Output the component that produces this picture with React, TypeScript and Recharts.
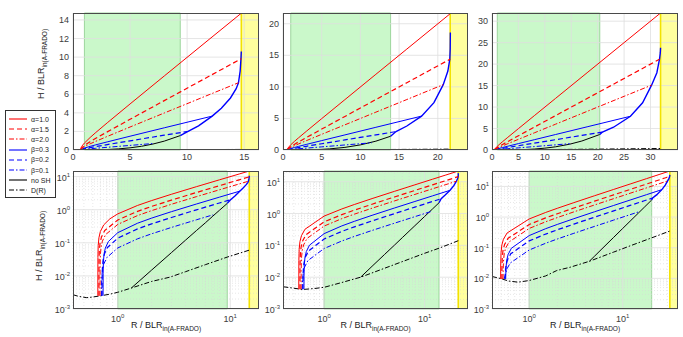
import React from "react"
import { LineChart, Line, XAxis, YAxis, ReferenceArea, ReferenceLine } from "recharts"

// curve points [R, H]; column 1 (left)
const c1A10 = [[0.665, 0.0025], [0.666, 0.036], [0.67, 0.082], [0.68, 0.142], [0.7, 0.219], [0.75, 0.347], [0.85, 0.529], [1, 0.747], [1.5, 1.345], [2, 1.886], [3, 2.925], [5, 4.956], [8, 7.972], [12, 11.98], [14.75, 14.73]]
const c1A15 = [[0.68, 0.0025], [0.681, 0.0246], [0.685, 0.0551], [0.695, 0.0958], [0.715, 0.147], [0.765, 0.234], [1, 0.489], [1.5, 0.892], [2, 1.254], [3, 1.949], [5, 3.304], [8, 5.317], [12, 7.99], [14.75, 9.83]]
const c1A20 = [[0.695, 0.0025], [0.696, 0.0186], [0.7, 0.0418], [0.71, 0.0726], [0.73, 0.112], [0.78, 0.177], [1, 0.36], [1.5, 0.665], [2, 0.938], [3, 1.459], [5, 2.476], [8, 3.985], [12, 5.99], [14.5, 7.24]]
const c1B03 = [[0.74, 0.0025], [0.741, 0.0116], [0.745, 0.0259], [0.755, 0.0449], [0.775, 0.0691], [0.825, 0.109], [1, 0.202], [1.5, 0.391], [2, 0.557], [3, 0.872], [5, 1.484], [8, 2.39], [12.2, 3.65]]
const c1B02 = [[0.725, 0.0025], [0.726, 0.0076], [0.73, 0.0171], [0.74, 0.0296], [0.76, 0.0456], [0.81, 0.0722], [1, 0.138], [1.5, 0.263], [2, 0.373], [3, 0.582], [5, 0.989], [8, 1.593], [10, 1.995]]
const c1B01 = [[0.715, 0.0025], [0.716, 0.0038], [0.72, 0.0085], [0.73, 0.0147], [0.75, 0.0226], [0.8, 0.0359], [1, 0.0699], [1.5, 0.132], [2, 0.187], [3, 0.291], [5, 0.495], [7.05, 0.701]]
const c1NoSH = [[1.32, 0.0043], [2, 0.015], [3, 0.0505], [4, 0.12], [5, 0.234], [6, 0.4], [7, 0.64], [8, 0.957], [9.4, 1.55]]
const c1Env = [[9.4, 1.55], [10, 1.95], [11, 2.6], [12.2, 3.65], [13, 4.5], [13.8, 5.6], [14.3, 6.6], [14.5, 7.24], [14.65, 8.5], [14.72, 9.83], [14.75, 10.6]]
const c1D = [[0.4, 0.0027], [0.45, 0.0024], [0.53, 0.0022], [0.6, 0.0023], [0.7, 0.0025], [0.85, 0.0028], [1, 0.0032], [1.32, 0.0043], [2, 0.0068], [2.92, 0.0092], [4, 0.0134], [6, 0.0218], [9.4, 0.037], [14.75, 0.06]]

// column 2 (middle)
const c2A10 = [[0.56, 0.0042], [0.561, 0.0335], [0.565, 0.075], [0.575, 0.131], [0.595, 0.201], [0.645, 0.32], [1, 0.829], [1.5, 1.392], [2, 1.92], [3, 2.947], [5, 4.969], [8, 7.98], [12, 11.99], [16, 15.99], [21.6, 21.59]]
const c2A15 = [[0.575, 0.0042], [0.576, 0.0226], [0.58, 0.0507], [0.59, 0.0882], [0.61, 0.136], [0.66, 0.216], [1, 0.546], [1.5, 0.924], [2, 1.277], [3, 1.963], [5, 3.311], [8, 5.319], [12, 7.991], [16, 10.66], [21.6, 14.39]]
const c2A20 = [[0.59, 0.0042], [0.591, 0.0172], [0.595, 0.0385], [0.605, 0.067], [0.625, 0.103], [0.675, 0.164], [1, 0.404], [1.5, 0.69], [2, 0.956], [3, 1.471], [5, 2.483], [8, 3.989], [12, 5.993], [16, 7.995], [20.7, 10.35]]
const c2B03 = [[0.63, 0.0042], [0.631, 0.0107], [0.635, 0.0239], [0.645, 0.0415], [0.665, 0.0639], [0.715, 0.101], [1, 0.233], [1.5, 0.408], [2, 0.569], [3, 0.88], [5, 1.488], [8, 2.393], [12, 3.595], [17.9, 5.367]]
const c2B02 = [[0.615, 0.0042], [0.616, 0.007], [0.62, 0.0157], [0.63, 0.0273], [0.65, 0.0421], [0.7, 0.0669], [1, 0.158], [1.5, 0.274], [2, 0.381], [3, 0.587], [5, 0.992], [8, 1.595], [12, 2.397], [14.6, 2.917]]
const c2B01 = [[0.605, 0.0042], [0.61, 0.0078], [0.62, 0.0136], [0.64, 0.0209], [0.69, 0.0332], [1, 0.0796], [1.5, 0.137], [2, 0.191], [3, 0.294], [5, 0.496], [8, 0.798], [11.5, 1.148]]
const c2NoSH = [[2.31, 0.01], [3, 0.022], [4, 0.052], [5, 0.101], [6, 0.175], [8, 0.415], [10, 0.81], [12, 1.4], [13.9, 2.18]]
const c2Env = [[13.9, 2.18], [14.6, 2.917], [16, 3.8], [17.9, 5.367], [19.5, 7.5], [20.7, 10.35], [21.3, 12.5], [21.55, 14.39], [21.6, 16], [21.62, 18.6]]
const c2D = [[0.393, 0.005], [0.5, 0.0045], [0.61, 0.0041], [0.8, 0.0044], [1, 0.0048], [1.5, 0.0068], [2.31, 0.01], [4, 0.0191], [7, 0.037], [10, 0.0563], [14, 0.082], [21.6, 0.14]]

// column 3 (right)
const c3A10 = [[0.495, 0.0096], [0.496, 0.0315], [0.5, 0.0705], [0.51, 0.123], [0.53, 0.189], [0.58, 0.302], [1, 0.869], [1.5, 1.416], [2, 1.938], [3, 2.959], [5, 4.975], [8, 7.985], [12, 11.99], [18, 17.99], [25, 25], [31.9, 31.9]]
const c3A15 = [[0.51, 0.0096], [0.511, 0.0213], [0.515, 0.0477], [0.525, 0.0831], [0.545, 0.128], [0.595, 0.204], [1, 0.574], [1.5, 0.94], [2, 1.289], [3, 1.971], [5, 3.316], [8, 5.323], [12, 7.993], [18, 11.995], [25, 16.66], [31.7, 21.13]]
const c3A20 = [[0.525, 0.0096], [0.526, 0.0162], [0.53, 0.0363], [0.54, 0.0632], [0.56, 0.0974], [0.61, 0.155], [1, 0.426], [1.5, 0.703], [2, 0.965], [3, 1.477], [5, 2.486], [8, 3.991], [12, 5.994], [18, 8.996], [25, 12.5], [30.2, 15.1]]
const c3B03 = [[0.56, 0.0096], [0.565, 0.0225], [0.575, 0.0392], [0.595, 0.0603], [0.645, 0.096], [1, 0.249], [1.5, 0.418], [2, 0.576], [3, 0.884], [5, 1.491], [8, 2.394], [12, 3.596], [18, 5.397], [26.2, 7.858]]
const c3B02 = [[0.55, 0.0096], [0.555, 0.0149], [0.565, 0.0259], [0.585, 0.0399], [0.635, 0.0635], [1, 0.167], [1.5, 0.279], [2, 0.385], [3, 0.59], [5, 0.994], [8, 1.596], [12, 2.397], [17, 3.398], [20.9, 4.179]]
const c3B01 = [[0.54, 0.0096], [0.555, 0.0128], [0.575, 0.0198], [0.625, 0.0315], [1, 0.0842], [1.5, 0.14], [2, 0.193], [3, 0.295], [5, 0.497], [8, 0.798], [11, 1.099], [14.7, 1.469]]
const c3NoSH = [[4.39, 0.036], [5, 0.053], [6, 0.092], [8, 0.218], [10, 0.426], [12, 0.736], [14.7, 1.35], [17, 2.09], [20.4, 3.61]]
const c3Env = [[20.4, 3.61], [20.9, 4.179], [23, 5.3], [26.2, 7.858], [28.5, 11], [30.2, 15.1], [31.2, 18], [31.7, 21.13], [31.85, 22.6], [31.9, 23.8]]
const c3D = [[0.4, 0.0115], [0.5, 0.0098], [0.6, 0.0082], [0.76, 0.0075], [1, 0.0085], [1.5, 0.012], [1.97, 0.018], [2.73, 0.023], [4.39, 0.036], [8, 0.072], [12, 0.115], [20.4, 0.21], [31.9, 0.35]]

// axis limits and shaded regions per column
const linXMax = [16.3, 23.9, 35.2]
const yMax = [14.75, 21.7, 31.9]
const logXMin = [0.4, 0.39, 0.4]
const logXMax = [18, 27, 39]
const greenEnd = [9.4, 13.9, 20.4]
const yellowStart = [14.75, 21.6, 31.9]
const linXTicks = [[0, 5, 10, 15], [0, 5, 10, 15, 20], [0, 5, 10, 15, 20, 25, 30]]
const linYTicks = [[0, 2, 4, 6, 8, 10, 12, 14], [0, 5, 10, 15, 20], [0, 5, 10, 15, 20, 25, 30]]
const logXTicks = [1, 10]
const logYTicks = [0.001, 0.01, 0.1, 1, 10]
const minorSteps = [2, 3, 4, 5, 6, 7, 8, 9]

const RED = "#ff0000"
const BLUE = "#0000ff"
const BLACK = "#000000"
const DASH = "5 3"
const DASHDOT = "5 2 1.5 2"

const legendItems = [
  { label: "α=1.0", color: RED, dash: undefined },
  { label: "α=1.5", color: RED, dash: DASH },
  { label: "α=2.0", color: RED, dash: DASHDOT },
  { label: "β=0.3", color: BLUE, dash: undefined },
  { label: "β=0.2", color: BLUE, dash: DASH },
  { label: "β=0.1", color: BLUE, dash: DASHDOT },
  { label: "no SH", color: BLACK, dash: undefined },
  { label: "D(R)", color: BLACK, dash: DASHDOT },
]

const columns = [
  [c1A10, c1A15, c1A20, c1B03, c1B02, c1B01, c1NoSH, c1D, c1Env],
  [c2A10, c2A15, c2A20, c2B03, c2B02, c2B01, c2NoSH, c2D, c2Env],
  [c3A10, c3A15, c3A20, c3B03, c3B02, c3B01, c3NoSH, c3D, c3Env],
]

const toPts = (a: number[][]) => a.map(([r, h]) => ({ r, h }))

const TICK_COLOR = "#3c3c3c"

function LinXTick(props: any) {
  const { x, y, payload } = props
  return <text x={x} y={y + 10} textAnchor="middle" fontSize={9} fill={TICK_COLOR}>{payload.value}</text>
}
function LinYTick(props: any) {
  const { x, y, payload } = props
  return <text x={x - 4} y={y + 3} textAnchor="end" fontSize={9} fill={TICK_COLOR}>{payload.value}</text>
}
function LogXTick(props: any) {
  const { x, y, payload } = props
  const e = Math.round(Math.log10(payload.value))
  return (
    <text x={x} y={y + 13} textAnchor="middle" fontSize={9} fill={TICK_COLOR}>
      10<tspan dy={-4} fontSize={6}>{e}</tspan>
    </text>
  )
}
function LogYTick(props: any) {
  const { x, y, payload } = props
  const e = Math.round(Math.log10(payload.value))
  return (
    <text x={x - 3} y={y + 4} textAnchor="end" fontSize={9} fill={TICK_COLOR}>
      10<tspan dy={-4} fontSize={6}>{e}</tspan>
    </text>
  )
}

interface PanelProps {
  col: number
  log: boolean
  left: number
  top: number
  width: number
  height: number
}

function Panel({ col, log, left, top, width, height }: PanelProps) {
  const YW = 40
  const XH = 20
  const MT = 2
  const MR = 4
  const xDom = log ? [logXMin[col], logXMax[col]] : [0, linXMax[col]]
  const yDom = log ? [0.001, yMax[col]] : [0, yMax[col]]
  const [a10, a15, a20, b03, b02, b01, noSH, dR, env] = columns[col]

  const xGrid: { v: number; minor: boolean }[] = []
  const yGrid: { v: number; minor: boolean }[] = []
  if (log) {
    ;[0.1, 1, 10].forEach((d) => {
      xGrid.push({ v: d, minor: false })
      minorSteps.forEach((m) => xGrid.push({ v: d * m, minor: true }))
    })
    ;[0.001, 0.01, 0.1, 1, 10].forEach((d) => {
      yGrid.push({ v: d, minor: false })
      minorSteps.forEach((m) => yGrid.push({ v: d * m, minor: true }))
    })
  } else {
    linXTicks[col].forEach((v) => xGrid.push({ v, minor: false }))
    linYTicks[col].forEach((v) => yGrid.push({ v, minor: false }))
  }

  const series = [
    { d: dR, c: BLACK, dash: DASHDOT, w: 1 },
    { d: noSH, c: BLACK, dash: undefined, w: 1 },
    { d: b01, c: BLUE, dash: DASHDOT, w: 1 },
    { d: b02, c: BLUE, dash: DASH, w: 1.2 },
    { d: b03, c: BLUE, dash: undefined, w: 1 },
    { d: env, c: BLUE, dash: undefined, w: 1.4 },
    { d: a20, c: RED, dash: DASHDOT, w: 1 },
    { d: a15, c: RED, dash: DASH, w: 1.2 },
    { d: a10, c: RED, dash: undefined, w: 1 },
  ]

  return (
    <div style={{ position: "absolute", left: left - YW, top: top - MT }}>
      <LineChart
        width={YW + width + MR}
        height={MT + height + XH}
        margin={{ top: MT, right: MR, left: 0, bottom: 0 }}
      >
        <XAxis
          type="number"
          dataKey="r"
          scale={log ? "log" : "linear"}
          domain={xDom}
          allowDataOverflow
          ticks={log ? logXTicks : linXTicks[col]}
          interval={0}
          height={XH}
          tickLine={false}
          axisLine={false}
          tickSize={0}
          tickMargin={0}
          tick={log ? <LogXTick /> : <LinXTick />}
        />
        <YAxis
          type="number"
          dataKey="h"
          scale={log ? "log" : "linear"}
          domain={yDom}
          allowDataOverflow
          ticks={log ? logYTicks : linYTicks[col]}
          interval={0}
          width={YW}
          tickLine={false}
          axisLine={false}
          tickSize={0}
          tickMargin={0}
          tick={log ? <LogYTick /> : <LinYTick />}
        />
        {xGrid.map((g, i) => (
          <ReferenceLine
            key={"gx" + i}
            x={g.v}
            stroke={g.minor ? "#d6d6d6" : "#dedede"}
            strokeWidth={g.minor ? 0.6 : 0.8}
            strokeDasharray={g.minor ? "1 2" : undefined}
          />
        ))}
        {yGrid.map((g, i) => (
          <ReferenceLine
            key={"gy" + i}
            y={g.v}
            stroke={g.minor ? "#d6d6d6" : "#dedede"}
            strokeWidth={g.minor ? 0.6 : 0.8}
            strokeDasharray={g.minor ? "1 2" : undefined}
          />
        ))}
        <ReferenceArea x1={1} x2={greenEnd[col]} fill="#80ee80" fillOpacity={0.42} stroke="#8ccc8c" strokeWidth={0.8} />
        <ReferenceArea x1={yellowStart[col]} x2={xDom[1]} fill="#ffff00" fillOpacity={0.38} strokeWidth={0} />
        <ReferenceLine x={yellowStart[col]} stroke="#f2e200" strokeWidth={1.6} />
        {series.map((s, i) => (
          <Line
            key={"s" + i}
            data={toPts(s.d)}
            dataKey="h"
            type="linear"
            stroke={s.c}
            strokeWidth={s.w}
            strokeDasharray={s.dash}
            dot={false}
            activeDot={false}
            isAnimationActive={false}
          />
        ))}
      </LineChart>
      <div
        style={{
          position: "absolute",
          left: YW,
          top: MT,
          width,
          height,
          border: "1px solid #4a4a4a",
          boxSizing: "border-box",
          pointerEvents: "none",
        }}
      />
    </div>
  )
}

const SubLabel = ({ main }: { main: string }) => (
  <span>
    {main}
    <sub style={{ fontSize: 6.5 }}>in(A-FRADO)</sub>
  </span>
)

function Legend() {
  return (
    <div
      style={{
        position: "absolute",
        left: 5,
        top: 110,
        width: 51,
        height: 88,
        border: "1px solid #333",
        background: "#fff",
        boxSizing: "border-box",
        paddingTop: 3,
      }}
    >
      {legendItems.map((it) => (
        <div
          key={it.label}
          style={{ display: "flex", alignItems: "center", height: 10.2, fontSize: 7, color: "#222", whiteSpace: "nowrap" }}
        >
          <svg width={20} height={8} style={{ marginLeft: 2, marginRight: 3, flex: "none" }}>
            <line x1={1} y1={4} x2={19} y2={4} stroke={it.color} strokeWidth={1.1} strokeDasharray={it.dash} />
          </svg>
          <span>{it.label}</span>
        </div>
      ))}
    </div>
  )
}

const panelCols = [
  { left: 73, width: 186 },
  { left: 283, width: 185 },
  { left: 492, width: 186 },
]

const labelStyle: React.CSSProperties = {
  position: "absolute",
  fontSize: 9,
  color: "#222",
  whiteSpace: "nowrap",
}

export default function App() {
  return (
    <div
      style={{
        position: "absolute",
        left: 0,
        top: 0,
        width: 683,
        height: 337,
        background: "#fff",
        fontFamily: "'Liberation Sans', Arial, sans-serif",
        overflow: "hidden",
      }}
    >
      {panelCols.map((p, i) => (
        <Panel key={"t" + i} col={i} log={false} left={p.left} top={13} width={p.width} height={137} />
      ))}
      {panelCols.map((p, i) => (
        <Panel key={"b" + i} col={i} log={true} left={p.left} top={171} width={p.width} height={138} />
      ))}
      <div style={{ ...labelStyle, left: 42, top: 64, transform: "translate(-50%, -50%) rotate(-90deg)" }}>
        <SubLabel main="H / BLR" />
      </div>
      <div style={{ ...labelStyle, left: 40, top: 246, transform: "translate(-50%, -50%) rotate(-90deg)" }}>
        <SubLabel main="H / BLR" />
      </div>
      {panelCols.map((p, i) => (
        <div key={"xl" + i} style={{ ...labelStyle, left: p.left + p.width / 2, top: 326, transform: "translate(-50%, -50%)" }}>
          <SubLabel main="R / BLR" />
        </div>
      ))}
      <Legend />
    </div>
  )
}
